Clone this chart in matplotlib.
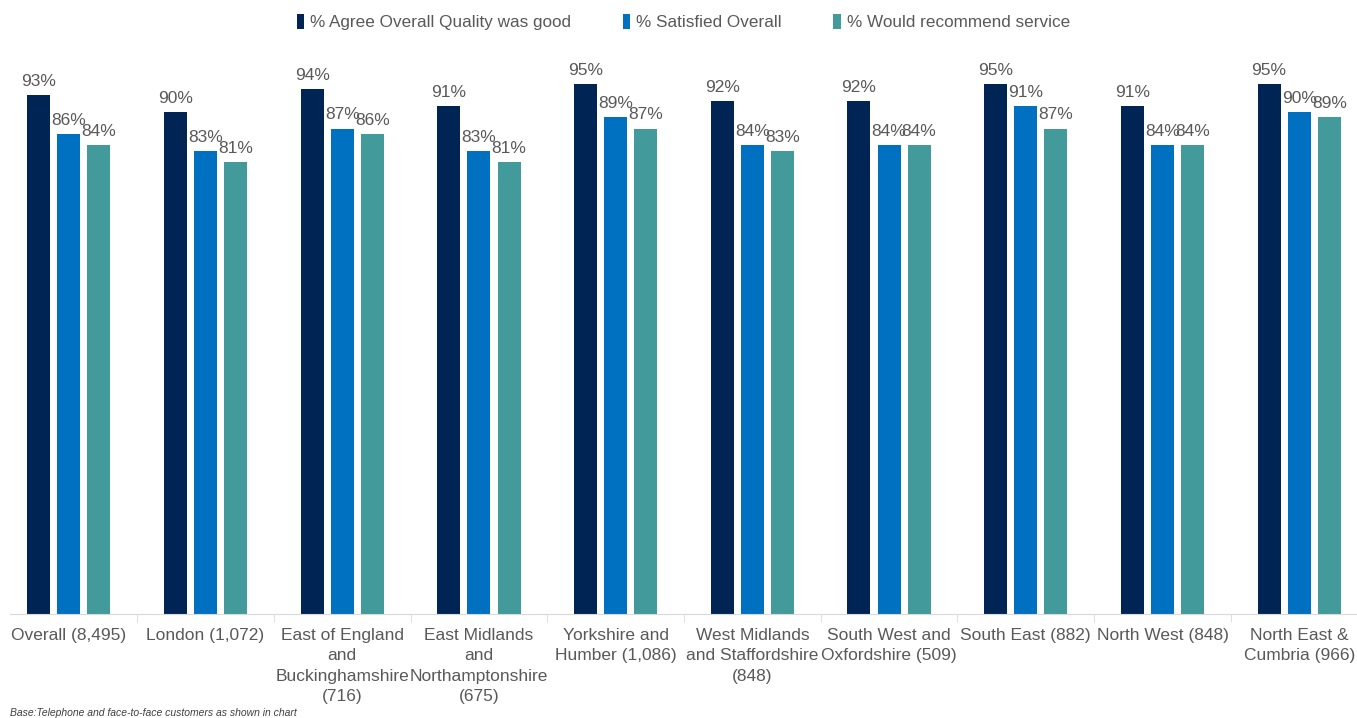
import numpy as np
import matplotlib.pyplot as plt

plt.rcParams['font.family'] = ['Liberation Sans', 'DejaVu Sans']

categories = ["Overall (8,495)", "London (1,072)",
              "East of England\nand\nBuckinghamshire\n(716)",
              "East Midlands\nand\nNorthamptonshire\n(675)",
              "Yorkshire and\nHumber (1,086)",
              "West Midlands\nand Staffordshire\n(848)",
              "South West and\nOxfordshire (509)",
              "South East (882)", "North West (848)",
              "North East &\nCumbria (966)"]
quality = [93, 90, 94, 91, 95, 92, 92, 95, 91, 95]
satisfied = [86, 83, 87, 83, 89, 84, 84, 91, 84, 90]
recommend = [84, 81, 86, 81, 87, 83, 84, 87, 84, 89]
series_names = ["% Agree Overall Quality was good", "% Satisfied Overall",
                "% Would recommend service"]
colors = ["#002554", "#0070C0", "#429A9A"]

fig = plt.figure(figsize=(13.57, 7.18), dpi=100)
# category band is ~137 px wide, the last one runs past the right edge
ax = fig.add_axes([0.5 / 1357, 1 - 614 / 718, 1367 / 1357, (614 - 56) / 718])

x = np.arange(len(categories))
w = 0.168
off = 0.22
for i, (vals, name, c) in enumerate(zip([quality, satisfied, recommend], series_names, colors)):
    bars = ax.bar(x + (i - 1) * off, vals, w, color=c, label=name)
    for b, v in zip(bars, vals):
        ax.text(b.get_x() + b.get_width() / 2, v + 1.1, f"{v}%", ha='center', va='bottom',
                fontsize=12.5, color='#595959')

ax.set_xlim(-0.5, len(categories) - 0.5)
ax.set_ylim(0, 100)
ax.set_yticks([])
for s in ['top', 'right', 'left']:
    ax.spines[s].set_visible(False)
ax.spines['bottom'].set_color('#d9d9d9')
ax.spines['bottom'].set_bounds(-0.434, len(categories) - 0.5)
ax.set_xticks(x)
ax.set_xticklabels(categories, fontsize=12.5, color='#595959', linespacing=1.45)
ax.tick_params(axis='x', length=0, pad=10)
ax.set_xticks(np.arange(len(categories)) + 0.5, minor=True)
ax.tick_params(axis='x', which='minor', length=6, color='#d9d9d9')

leg = fig.legend(loc='center', bbox_to_anchor=(0.5 + 5 / 1357, 1 - 22 / 718), ncol=3,
                 frameon=False, fontsize=12.3, handlelength=0.45, handleheight=1.0,
                 columnspacing=3.0, handletextpad=0.35)
for t in leg.get_texts():
    t.set_color('#595959')

fig.text(10 / 1357, 1 - 713 / 718, "Base:Telephone and face-to-face customers as shown in chart",
         fontsize=7.5, style='italic', color='#404040', va='center')

fig.savefig("out.png", dpi=100, facecolor='white')
